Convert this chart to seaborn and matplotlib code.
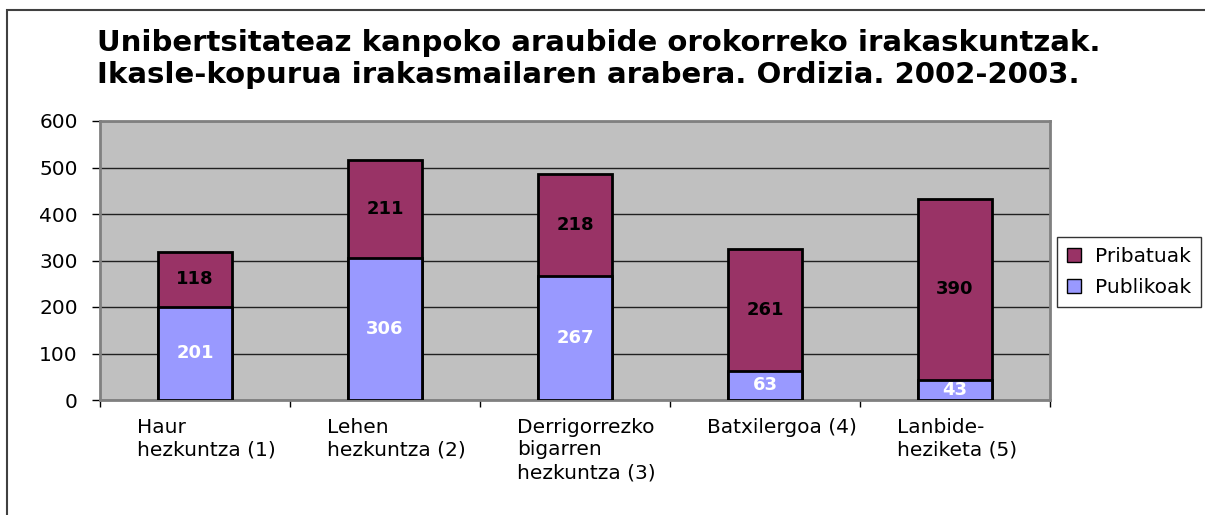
import pandas as pd
import matplotlib.pyplot as plt
import seaborn as sns
from matplotlib.patches import Rectangle, Patch

sns.set_theme(style="white")
plt.rcParams['font.family'] = ['DejaVu Sans']
plt.rcParams['text.color'] = 'black'
plt.rcParams['xtick.color'] = 'black'
plt.rcParams['ytick.color'] = 'black'

kategoriak = ['Haur\nhezkuntza (1)', 'Lehen\nhezkuntza (2)', 'Derrigorrezko\nbigarren\nhezkuntza (3)',
              'Batxilergoa (4)', 'Lanbide-\nheziketa (5)']
publikoak = [201, 306, 267, 63, 43]
pribatuak = [118, 211, 218, 261, 390]

data = pd.DataFrame({'Kategoria': kategoriak, 'Publikoak': publikoak, 'Pribatuak': pribatuak})
data['Guztira'] = data['Publikoak'] + data['Pribatuak']

kolor_pri = '#993366'
kolor_pub = '#9999FF'

fig = plt.figure(figsize=(12.05, 5.15), dpi=100)
ax = fig.add_axes([100 / 1205, 1 - 400 / 515, 950 / 1205, 279 / 515])
ax.set_facecolor('#C0C0C0')

sns.barplot(data=data, x='Kategoria', y='Guztira', color=kolor_pri, saturation=1,
            width=0.39, edgecolor='black', linewidth=2, ax=ax, zorder=3)
sns.barplot(data=data, x='Kategoria', y='Publikoak', color=kolor_pub, saturation=1,
            width=0.39, edgecolor='black', linewidth=2, ax=ax, zorder=4)

for i, row in data.iterrows():
    ax.text(i, row['Publikoak'] / 2, str(row['Publikoak']), ha='center', va='center',
            color='white', fontsize=13, fontweight='bold', zorder=5)
    ax.text(i, row['Publikoak'] + row['Pribatuak'] / 2, str(row['Pribatuak']), ha='center',
            va='center', color='black', fontsize=13, fontweight='bold', zorder=5)

ax.set_xlim(-0.5, len(kategoriak) - 0.5)
ax.set_ylim(0, 600)
ax.set_yticks(range(0, 601, 100))
ax.yaxis.grid(True, color='#202020', linewidth=1)
ax.set_axisbelow(True)
ax.tick_params(axis='y', left=True, length=6, width=1, color='black', labelsize=14.5, pad=10)
ax.set_xlabel('')
ax.set_ylabel('')

# category boundary ticks, labels left-aligned below
ax.set_xticks([i - 0.5 for i in range(len(kategoriak) + 1)])
ax.set_xticklabels([])
ax.tick_params(axis='x', bottom=True, length=5, width=1, color='black')
trans = ax.get_xaxis_transform()
for i, lab in enumerate(kategoriak):
    ax.text(i - 0.305, -0.063, lab, transform=trans, ha='left', va='top',
            fontsize=14.5, linespacing=1.25)

for s in ax.spines.values():
    s.set_color('#808080')
    s.set_linewidth(2)

fig.text(97 / 1205, 1 - 29 / 515,
         'Unibertsitateaz kanpoko araubide orokorreko irakaskuntzak.\n'
         'Ikasle-kopurua irakasmailaren arabera. Ordizia. 2002-2003.',
         ha='left', va='top', fontsize=21, fontweight='bold', linespacing=1.2)

handles = [Patch(facecolor=kolor_pri, edgecolor='black', label='Pribatuak'),
           Patch(facecolor=kolor_pub, edgecolor='black', label='Publikoak')]
fig.legend(handles=handles, loc='upper left', bbox_to_anchor=(1057 / 1205, 1 - 237 / 515),
           frameon=True, fancybox=False, edgecolor='black', fontsize=14.5,
           handlelength=0.7, handleheight=0.7, handletextpad=0.7, labelspacing=0.6,
           borderpad=0.5, borderaxespad=0)

fig.add_artist(Rectangle((7 / 1205, -0.1), 1.2, 1 - 10 / 515 + 0.1, transform=fig.transFigure,
                         fill=False, edgecolor='#404040', linewidth=1.5))

fig.savefig('out.png', dpi=100)
